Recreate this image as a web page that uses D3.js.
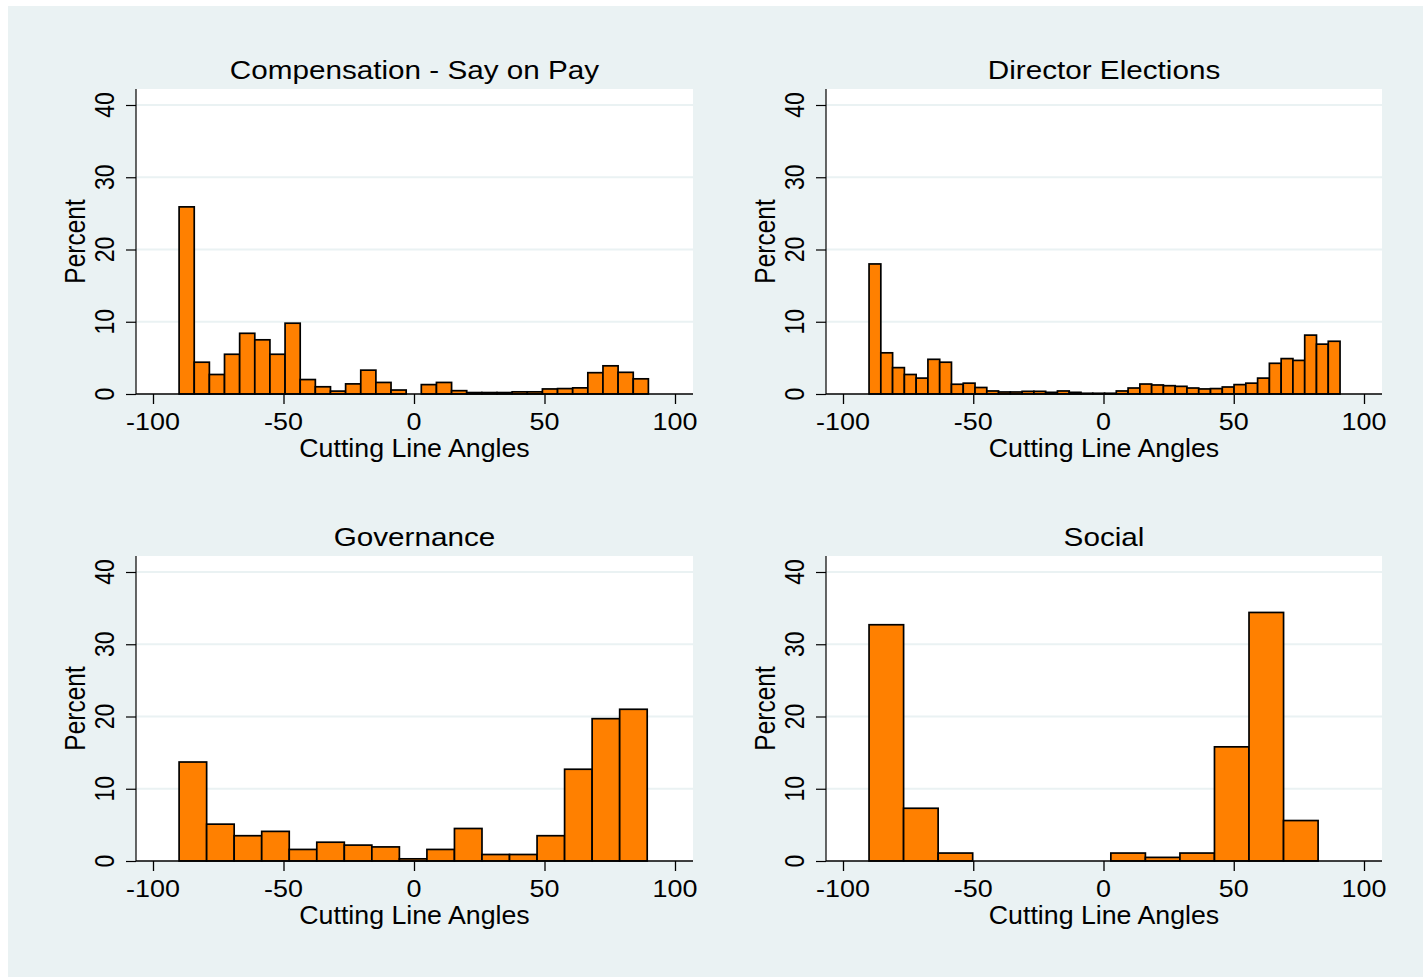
<!DOCTYPE html>
<html>
<head>
<meta charset="utf-8">
<script src="https://cdn.jsdelivr.net/npm/d3@7"></script>
<style>
  html, body { margin: 0; padding: 0; background: #ffffff; }
  svg { display: block; }
  text { font-family: "Liberation Sans", Arial, Helvetica, sans-serif; fill: #000; }
</style>
</head>
<body>
<svg id="chart" width="1423" height="977"></svg>
<script>
// ---------- DATA ----------
const panelTitles = ["Compensation - Say on Pay", "Director Elections", "Governance", "Social"];
const xAxisTitle = "Cutting Line Angles";
const yAxisTitle = "Percent";
const xTickValues = [-100, -50, 0, 50, 100];
const yTickValues = [0, 10, 20, 30, 40];

const sayOnPayStart = -90, sayOnPayWidth = 5.8;
const sayOnPayPct = [25.9, 4.4, 2.7, 5.5, 8.4, 7.5, 5.5, 9.8, 2.0, 1.0, 0.4, 1.4, 3.3, 1.6, 0.55, 0.0,
  1.3, 1.6, 0.46, 0.2, 0.2, 0.2, 0.3, 0.3, 0.7, 0.75, 0.85, 2.95, 3.9, 3.0, 2.1];

const directorStart = -90, directorWidth = 4.52;
const directorPct = [18.0, 5.7, 3.65, 2.7, 2.2, 4.8, 4.4, 1.35, 1.5, 0.9, 0.42, 0.28, 0.28, 0.37, 0.37, 0.23,
  0.42, 0.23, 0.1, 0.1, 0.1, 0.42, 0.83, 1.38, 1.25, 1.15, 1.06, 0.83, 0.7, 0.75, 0.97, 1.3, 1.5, 2.2,
  4.25, 4.9, 4.65, 8.15, 6.9, 7.3];

const governanceStart = -90, governanceWidth = 10.55;
const governancePct = [13.7, 5.1, 3.5, 4.1, 1.6, 2.6, 2.2, 1.95, 0.3, 1.6, 4.5, 0.9, 0.9, 3.5, 12.7, 19.7, 21.0];

const socialStart = -90, socialWidth = 13.26;
const socialPct = [32.7, 7.3, 1.1, 0, 0, 0, 0, 1.1, 0.5, 1.1, 15.8, 34.4, 5.6];

// ---------- LAYOUT ----------
const W = 1423, H = 977;
const colPlot = [[136, 693], [826, 1382]];
const colAxis = [[153, 675], [843, 1364]];
const rowPlot = [[89, 394], [556, 861]];
const rowAxisTop = [105, 572];
const textStretch = { title: 1.15, tick: 1.17, axisTitle: 1.07 };
const BAR_FILL = "#ff8000";
const BG = "#eaf2f3";

const panels = [
  { title: panelTitles[0], start: sayOnPayStart, width: sayOnPayWidth, pct: sayOnPayPct, col: 0, row: 0 },
  { title: panelTitles[1], start: directorStart, width: directorWidth, pct: directorPct, col: 1, row: 0 },
  { title: panelTitles[2], start: governanceStart, width: governanceWidth, pct: governancePct, col: 0, row: 1 },
  { title: panelTitles[3], start: socialStart, width: socialWidth, pct: socialPct, col: 1, row: 1 }
];

const svg = d3.select("#chart");
svg.append("rect").attr("x", 0).attr("y", 0).attr("width", W).attr("height", H).attr("fill", "#ffffff");
svg.append("rect").attr("x", 8).attr("y", 6).attr("width", W - 8).attr("height", H - 6).attr("fill", BG);

panels.forEach(p => {
  const [px0, px1] = colPlot[p.col];
  const [py0, py1] = rowPlot[p.row];
  const x = d3.scaleLinear().domain([-100, 100]).range(colAxis[p.col]);
  const y = d3.scaleLinear().domain([0, 40]).range([py1, rowAxisTop[p.row]]);
  const g = svg.append("g");

  // plot region
  g.append("rect").attr("x", px0).attr("y", py0).attr("width", px1 - px0).attr("height", py1 - py0)
    .attr("fill", "#ffffff");

  // gridlines
  g.selectAll("line.grid").data(yTickValues.filter(v => v > 0)).join("line")
    .attr("x1", px0).attr("x2", px1)
    .attr("y1", d => y(d)).attr("y2", d => y(d))
    .attr("stroke", BG).attr("stroke-width", 2);

  // bars
  const bins = p.pct.map((v, i) => ({ x0: p.start + i * p.width, x1: p.start + (i + 1) * p.width, v }));
  g.selectAll("rect.bar").data(bins).join("rect")
    .attr("class", "bar")
    .attr("x", d => x(d.x0)).attr("width", d => x(d.x1) - x(d.x0))
    .attr("y", d => y(d.v)).attr("height", d => y(0) - y(d.v))
    .attr("fill", BAR_FILL).attr("stroke", "#000").attr("stroke-width", 1.7)
    .attr("stroke-linejoin", "miter");

  // x axis
  const xAxis = d3.axisBottom(x).tickValues(xTickValues).tickSize(10).tickFormat(d => "");
  const xg = g.append("g").attr("transform", `translate(0,${py1})`).call(xAxis);
  xg.select(".domain").remove();
  xg.selectAll(".tick line").attr("stroke", "#000").attr("stroke-width", 1.3);
  g.append("line").attr("x1", px0).attr("x2", px1).attr("y1", py1).attr("y2", py1)
    .attr("stroke", "#000").attr("stroke-width", 1.5);
  g.selectAll("text.xt").data(xTickValues).join("text")
    .attr("class", "xt")
    .attr("transform", d => `translate(${x(d)},${py1 + 35.5}) scale(${textStretch.tick},1)`)
    .attr("text-anchor", "middle").style("font-size", "23px")
    .text(d => d3.format("d")(d).replace("−", "-"));
  g.append("text")
    .attr("transform", `translate(${(px0 + px1) / 2},${py1 + 63}) scale(${textStretch.axisTitle},1)`)
    .attr("text-anchor", "middle").style("font-size", "25px").text(xAxisTitle);

  // y axis
  const yAxis = d3.axisLeft(y).tickValues(yTickValues).tickSize(10).tickFormat(d => "");
  const yg = g.append("g").attr("transform", `translate(${px0},0)`).call(yAxis);
  yg.select(".domain").remove();
  yg.selectAll(".tick line").attr("stroke", "#000").attr("stroke-width", 1.2);
  g.append("line").attr("x1", px0).attr("x2", px0).attr("y1", py0).attr("y2", py1)
    .attr("stroke", "#000").attr("stroke-width", 1.2);
  g.selectAll("text.yt").data(yTickValues).join("text")
    .attr("class", "yt")
    .attr("transform", d => `translate(${px0 - 22.5},${y(d)}) scale(${textStretch.tick},1) rotate(-90)`)
    .attr("text-anchor", "middle").style("font-size", "23px")
    .text(d => d);
  g.append("text")
    .attr("transform", `translate(${px0 - 51},${(py0 + py1) / 2}) scale(${textStretch.tick},1) rotate(-90)`)
    .attr("text-anchor", "middle").style("font-size", "24.5px").text(yAxisTitle);

  // title
  g.append("text")
    .attr("transform", `translate(${(px0 + px1) / 2},${py0 - 9.7}) scale(${textStretch.title},1)`)
    .attr("text-anchor", "middle").style("font-size", "25.8px").text(p.title);
});
</script>
</body>
</html>
